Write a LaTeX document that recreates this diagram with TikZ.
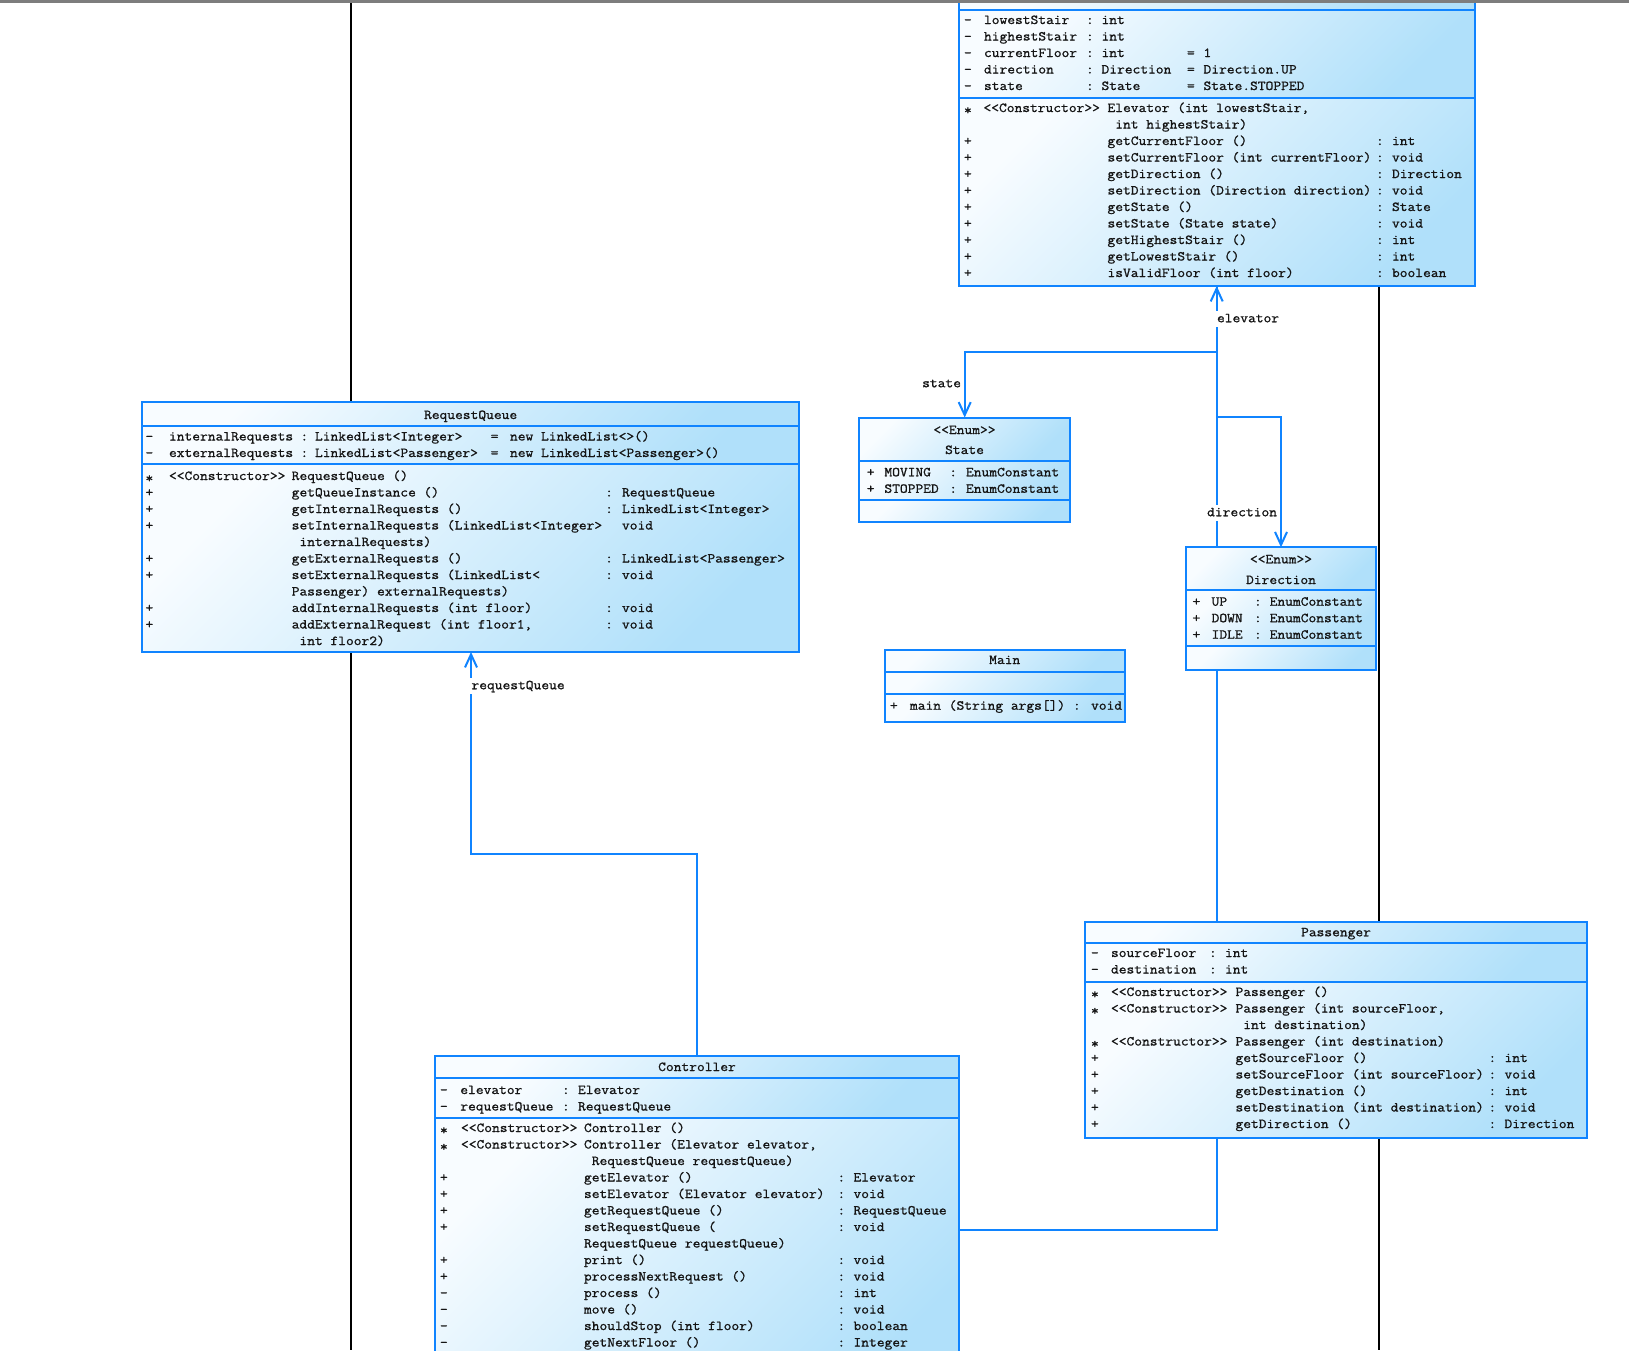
\documentclass[tikz,border=0pt]{standalone}
\usepackage{fontspec}
\usetikzlibrary{arrows.meta}
\newfontfamily\umlmono{Latin Modern Mono}[FakeStretch=1.1,FakeBold=1]
\definecolor{umlblue}{RGB}{16,132,255}
\definecolor{shadeA}{RGB}{248,252,255}
\definecolor{shadeB}{RGB}{176,224,250}
\definecolor{umltext}{RGB}{20,20,20}
\definecolor{topbar}{RGB}{125,125,125}
\newcommand{\umlrows}[1]{\begin{tabular}[t]{@{}l@{}}#1\end{tabular}}
\newcommand{\umlctor}{\raisebox{-2.5pt}{*}}
\begin{document}
\begin{tikzpicture}[x=1pt,y=-1pt,
  comp/.style={rectangle, draw=umlblue, line width=2pt, top color=shadeA, bottom color=shadeB, shading angle=45, inner sep=0pt, outer sep=0pt, anchor=north west},
  txt/.style={inner sep=0pt, outer sep=0pt, anchor=base west, text=umltext, font=\umlmono\fontsize{13.7}{16.5}\selectfont},
  ttl/.style={txt, anchor=base},
  assoc/.style={draw=umlblue, line width=2pt, -{Straight Barb[length=13pt,width=12pt]}},
  lbl/.style={txt, fill=white, inner xsep=2pt, inner ysep=1pt, text height=10pt, text depth=3.5pt},
  life/.style={draw=black, line width=2pt}]
\path[use as bounding box] (0,0) rectangle (1629,1350);
\clip (0,0) rectangle (1629,1350);
\fill[white] (0,0) rectangle (1629,1350);

% black vertical lines (behind everything)
\coordinate (lifeLtop) at (351,3);
\coordinate (lifeLbot) at (351,1350);
\coordinate (lifeRtop) at (1379,3);
\coordinate (lifeRbot) at (1379,1350);
\draw[life] (lifeLtop) -- (lifeLbot);
\draw[life] (lifeRtop) -- (lifeRbot);

% Elevator
\node[comp, minimum width=516pt, minimum height=30pt] (elev-name) at (959,-20) {};
\node[comp, minimum width=516pt, minimum height=88pt] (elev-attr) at (959,10) {};
\node[comp, minimum width=516pt, minimum height=188pt] (elev-ops) at (959,98) {};
% RequestQueue
\node[comp, minimum width=656.7pt, minimum height=24pt] (rq-name) at (142.3,402) {};
\node[comp, minimum width=656.7pt, minimum height=38pt] (rq-attr) at (142.3,426) {};
\node[comp, minimum width=656.7pt, minimum height=188pt] (rq-ops) at (142.3,464) {};
% Controller
\node[comp, minimum width=524pt, minimum height=22pt] (ctl-name) at (435,1056) {};
\node[comp, minimum width=524pt, minimum height=40pt] (ctl-attr) at (435,1078) {};
\node[comp, minimum width=524pt, minimum height=282pt] (ctl-ops) at (435,1118) {};

% connectors (before the remaining boxes so they pass behind them)
\coordinate (rqbendA) at (696.7,854);
\coordinate (rqbendB) at (471,854);
\draw[assoc] (ctl-name.north -| rqbendA) -- (rqbendA) -- (rqbendB) -- (rq-ops.south -| rqbendB);

\coordinate (elbend) at (1216.7,1230);
\draw[assoc] (ctl-ops.east |- elbend) -- (elbend) -- (elev-ops.south -| elbend);

\coordinate (stA) at (1216.7,351.7);
\coordinate (stB) at (964.7,351.7);
\coordinate (drA) at (1216.7,417.3);
\coordinate (drB) at (1281,417.3);

% Passenger
\node[comp, minimum width=502.6pt, minimum height=21.5pt] (pas-name) at (1084.6,921.5) {};
\node[comp, minimum width=502.6pt, minimum height=39pt] (pas-attr) at (1084.6,943) {};
\node[comp, minimum width=502.6pt, minimum height=155.5pt] (pas-ops) at (1084.6,982) {};
% State
\node[comp, minimum width=211.8pt, minimum height=43.5pt] (state-name) at (858.6,417.5) {};
\node[comp, minimum width=211.8pt, minimum height=39pt] (state-attr) at (858.6,461) {};
\node[comp, minimum width=211.8pt, minimum height=21.7pt] (state-ops) at (858.6,500) {};
% Direction
\node[comp, minimum width=189.3pt, minimum height=42.7pt] (dir-name) at (1186.2,547.3) {};
\node[comp, minimum width=189.3pt, minimum height=55.7pt] (dir-attr) at (1186.2,590) {};
\node[comp, minimum width=189.3pt, minimum height=24.3pt] (dir-ops) at (1186.2,645.7) {};
% Main
\node[comp, minimum width=240pt, minimum height=22.3pt] (main-name) at (884.7,650) {};
\node[comp, minimum width=240pt, minimum height=21.7pt] (main-attr) at (884.7,672.3) {};
\node[comp, minimum width=240pt, minimum height=27.7pt] (main-ops) at (884.7,694) {};

\draw[assoc] (elev-ops.south -| stA) -- (stA) -- (stB) -- (state-name.north -| stB);
\draw[assoc] (elev-ops.south -| drA) -- (drA) -- (drB) -- (dir-name.north -| drB);

% Elevator text
\node[txt] (elev-am) at (964,24) {\umlrows{-\\-\\-\\-\\-}};
\node[txt] (elev-an) at (984,24) {\umlrows{lowestStair\\highestStair\\currentFloor\\direction\\state}};
\node[txt] (elev-ac) at (1086,24) {\umlrows{:\\:\\:\\:\\:}};
\node[txt] (elev-at) at (1101.5,24) {\umlrows{int\\int\\int\\Direction\\State}};
\node[txt] (elev-ae) at (1187,24) {\umlrows{{}\\{}\\=\\=\\=}};
\node[txt] (elev-av) at (1203.5,24) {\umlrows{{}\\{}\\1\\Direction.UP\\State.STOPPED}};

\node[txt] (elev-om) at (964,112) {\umlrows{\umlctor\\{}\\+\\+\\+\\+\\+\\+\\+\\+\\+}};
\node[txt] (elev-oc) at (983.5,112) {\umlrows{<<Constructor>>}};
\node[txt] (elev-on) at (1107.5,112) {\umlrows{Elevator (int lowestStair,\\~int highestStair)\\getCurrentFloor ()\\setCurrentFloor (int currentFloor)\\getDirection ()\\setDirection (Direction direction)\\getState ()\\setState (State state)\\getHighestStair ()\\getLowestStair ()\\isValidFloor (int floor)}};
\node[txt] (elev-ocol) at (1376,112) {\umlrows{{}\\{}\\:\\:\\:\\:\\:\\:\\:\\:\\:}};
\node[txt] (elev-or) at (1392,112) {\umlrows{{}\\{}\\int\\void\\Direction\\void\\State\\void\\int\\int\\boolean}};

% RequestQueue text
\node[ttl] (rq-title) at (470.6,419) {RequestQueue};
\node[txt] (rq-am) at (145.5,440.5) {\umlrows{-\\-}};
\node[txt] (rq-an) at (169,440.5) {\umlrows{internalRequests\\externalRequests}};
\node[txt] (rq-ac) at (300.5,440.5) {\umlrows{:\\:}};
\node[txt] (rq-at) at (315,440.5) {\umlrows{LinkedList<Integer>\\LinkedList<Passenger>}};
\node[txt] (rq-ae) at (490.7,440.5) {\umlrows{=\\=}};
\node[txt] (rq-av) at (510,440.5) {\umlrows{new LinkedList<>()\\new LinkedList<Passenger>()}};

\node[txt] (rq-om) at (145.5,480) {\umlrows{\umlctor\\+\\+\\+\\{}\\+\\+\\{}\\+\\+\\{}}};
\node[txt] (rq-oc) at (169,480) {\umlrows{<<Constructor>>}};
\node[txt] (rq-on) at (291.7,480) {\umlrows{RequestQueue ()\\getQueueInstance ()\\getInternalRequests ()\\setInternalRequests (LinkedList<Integer>\\~internalRequests)\\getExternalRequests ()\\setExternalRequests (LinkedList<\\Passenger) externalRequests)\\addInternalRequests (int floor)\\addExternalRequest (int floor1,\\~int floor2)}};
\node[txt] (rq-ocol) at (605.2,480) {\umlrows{{}\\:\\:\\{}\\{}\\:\\:\\{}\\:\\:\\{}}};
\node[txt] (rq-or) at (622,480) {\umlrows{{}\\RequestQueue\\LinkedList<Integer>\\void\\{}\\LinkedList<Passenger>\\void\\{}\\void\\void\\{}}};

% Controller text
\node[ttl] (ctl-title) at (697,1071) {Controller};
\node[txt] (ctl-am) at (440,1094) {\umlrows{-\\-}};
\node[txt] (ctl-an) at (460.3,1094) {\umlrows{elevator\\requestQueue}};
\node[txt] (ctl-ac) at (562,1094) {\umlrows{:\\:}};
\node[txt] (ctl-at) at (578,1094) {\umlrows{Elevator\\RequestQueue}};

\node[txt] (ctl-om) at (440,1132) {\umlrows{\umlctor\\\umlctor\\{}\\+\\+\\+\\+\\{}\\+\\+\\-\\-\\-\\-}};
\node[txt] (ctl-oc) at (461,1132) {\umlrows{<<Constructor>>\\<<Constructor>>}};
\node[txt] (ctl-on) at (584,1132) {\umlrows{Controller ()\\Controller (Elevator elevator,\\~RequestQueue requestQueue)\\getElevator ()\\setElevator (Elevator elevator)\\getRequestQueue ()\\setRequestQueue (\\RequestQueue requestQueue)\\print ()\\processNextRequest ()\\process ()\\move ()\\shouldStop (int floor)\\getNextFloor ()}};
\node[txt] (ctl-ocol) at (837.5,1132) {\umlrows{{}\\{}\\{}\\:\\:\\:\\:\\{}\\:\\:\\:\\:\\:\\:}};
\node[txt] (ctl-or) at (853.5,1132) {\umlrows{{}\\{}\\{}\\Elevator\\void\\RequestQueue\\void\\{}\\void\\void\\int\\void\\boolean\\Integer}};

% Passenger text
\node[ttl] (pas-title) at (1336,936.3) {Passenger};
\node[txt] (pas-am) at (1091,957) {\umlrows{-\\-}};
\node[txt] (pas-an) at (1111,957) {\umlrows{sourceFloor\\destination}};
\node[txt] (pas-ac) at (1209,957) {\umlrows{:\\:}};
\node[txt] (pas-at) at (1225,957) {\umlrows{int\\int}};

\node[txt] (pas-om) at (1091,996) {\umlrows{\umlctor\\\umlctor\\{}\\\umlctor\\+\\+\\+\\+\\+}};
\node[txt] (pas-oc) at (1111,996) {\umlrows{<<Constructor>>\\<<Constructor>>\\{}\\<<Constructor>>}};
\node[txt] (pas-on) at (1235.5,996) {\umlrows{Passenger ()\\Passenger (int sourceFloor,\\~int destination)\\Passenger (int destination)\\getSourceFloor ()\\setSourceFloor (int sourceFloor)\\getDestination ()\\setDestination (int destination)\\getDirection ()}};
\node[txt] (pas-ocol) at (1488.5,996) {\umlrows{{}\\{}\\{}\\{}\\:\\:\\:\\:\\:}};
\node[txt] (pas-or) at (1504.5,996) {\umlrows{{}\\{}\\{}\\{}\\int\\void\\int\\void\\Direction}};

% State text
\node[ttl] (st-ster) at (964.5,434) {<<Enum>>};
\node[ttl] (st-title) at (964.5,454) {State};
\node[txt] (st-am) at (866.8,476.3) {\umlrows{+\\+}};
\node[txt] (st-an) at (884.4,476.3) {\umlrows{MOVING\\STOPPED}};
\node[txt] (st-ac) at (949.3,476.3) {\umlrows{:\\:}};
\node[txt] (st-at) at (966,476.3) {\umlrows{EnumConstant\\EnumConstant}};

% Direction text
\node[ttl] (dir-ster) at (1281,563.3) {<<Enum>>};
\node[ttl] (dir-title) at (1281,584) {Direction};
\node[txt] (dir-am) at (1192.5,605.7) {\umlrows{+\\+\\+}};
\node[txt] (dir-an) at (1211.6,605.7) {\umlrows{UP\\DOWN\\IDLE}};
\node[txt] (dir-ac) at (1254,605.7) {\umlrows{:\\:\\:}};
\node[txt] (dir-at) at (1269.7,605.7) {\umlrows{EnumConstant\\EnumConstant\\EnumConstant}};

% Main text
\node[ttl] (main-title) at (1004.7,664) {Main};
\node[txt] (main-om) at (890,709.7) {+};
\node[txt] (main-on) at (910,709.7) {main (String args[]) : void};

% connector labels
\node[lbl, anchor=west] (lab-rq) at (469.5,686) {requestQueue};
\node[lbl, anchor=west] (lab-el) at (1215,319) {elevator};
\node[lbl, anchor=east] (lab-dir) at (1279,513) {direction};
\node[lbl, anchor=east] (lab-st) at (963,384) {state};

% top window bar
\fill[topbar] (0,0) rectangle (1629,2.7);
\end{tikzpicture}
\end{document}
